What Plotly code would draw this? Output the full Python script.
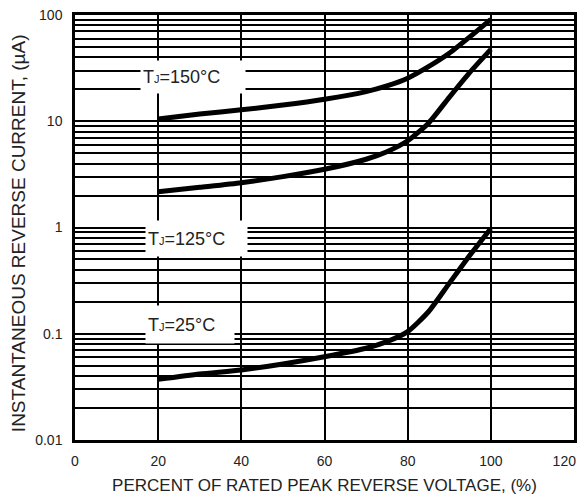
import numpy as np
import plotly.graph_objects as go

# ---- data ----
voltage_pct = [20, 30, 40, 50, 60, 70, 75, 80, 85, 90, 95, 100]
current_150 = [10.5, 11.7, 12.8, 14.2, 16.1, 19.0, 21.5, 25.4, 32.6, 43.6, 62.5, 91.0]
current_125 = [2.17, 2.39, 2.64, 3.01, 3.53, 4.39, 5.17, 6.56, 9.6, 16.8, 29.0, 47.5]
current_25 = [0.0372, 0.0418, 0.0456, 0.0519, 0.0608, 0.073, 0.0842, 0.1047, 0.161, 0.298, 0.551, 0.98]

x_ticks = [0, 20, 40, 60, 80, 100, 120]
x_tick_text = ["0", "20", "40", "60", "80", "100", "120\u00a0\u00a0\u00a0\u00a0\u00a0"]
y_ticks = [0.01, 0.1, 1, 10, 100]
y_tick_text = ["0.01", "0.1", "1", "10", "100"]
y_minor = [m * 10.0 ** d for d in range(-2, 2) for m in range(2, 10)]

x_title = "PERCENT OF RATED PEAK REVERSE VOLTAGE, (%)"
y_title = "INSTANTANEOUS REVERSE CURRENT, (µA)"

label_texts = [
    "T<span style='font-size:11px'>J</span>=150°C",
    "T<span style='font-size:11px'>J</span>=125°C",
    "T<span style='font-size:11px'>J</span>=25°C",
]

# label box placement (box top-left corner in data units) and box sizes in px
label_x = [15.6, 16.8, 16.8]
label_y = [37.7, 1.18, 0.187]
label_w = [106, 103, 90]
label_h = [32, 35, 37]

FONT = "Liberation Sans, Arial, sans-serif"

fig = go.Figure()
for ys in (current_150, current_125, current_25):
    fig.add_trace(go.Scatter(
        x=voltage_pct, y=ys, mode="lines",
        line=dict(color="black", width=5, shape="spline", smoothing=0.6),
        showlegend=False, hoverinfo="skip",
    ))

for t, lx, ly, w, h in zip(label_texts, label_x, label_y, label_w, label_h):
    fig.add_annotation(
        x=lx, y=np.log10(ly), xref="x", yref="y",
        xanchor="left", yanchor="top",
        text=t, showarrow=False,
        width=w - 6, height=h - 4, borderpad=2,
        align="left", valign="middle",
        bgcolor="white",
        font=dict(family=FONT, size=18, color="#222"),
    )

# y-axis title as a rotated annotation (slightly below the plot centre, as in the reference)
fig.add_annotation(
    x=-0.114, y=0.487, xref="paper", yref="paper",
    xanchor="center", yanchor="middle", textangle=-90,
    text=y_title, showarrow=False,
    font=dict(family=FONT, size=19, color="#222"),
)

axis_font = dict(family=FONT, size=14, color="#222")

# the page body adds an 8px margin, so margins are offset to compensate
fig.update_layout(
    width=586, height=499,
    margin=dict(l=67, r=20, t=7, b=67),
    paper_bgcolor="white", plot_bgcolor="white",
    showlegend=False,
    xaxis=dict(
        range=[0, 120], tickvals=x_ticks, ticktext=x_tick_text,
        automargin=False, ticklabeloverflow="allow",
        showgrid=True, gridcolor="black", gridwidth=2,
        showline=True, linecolor="black", linewidth=2.5, mirror=True,
        zeroline=False,
        ticks="outside", ticklen=6, tickcolor="white",
        tickfont=axis_font,
        title=dict(text=x_title,
                   font=dict(family=FONT, size=17, color="#222"), standoff=12),
    ),
    yaxis=dict(
        type="log", range=[-2, 2],
        tickvals=y_ticks, ticktext=y_tick_text,
        automargin=False, ticklabeloverflow="allow",
        showgrid=True, gridcolor="black", gridwidth=2,
        minor=dict(tickvals=y_minor, showgrid=True, gridcolor="black", gridwidth=1.8, ticks=""),
        showline=True, linecolor="black", linewidth=2.5, mirror=True,
        zeroline=False,
        ticks="outside", ticklen=7, tickcolor="white",
        tickfont=axis_font,
    ),
)

fig.write_html("out.html")
